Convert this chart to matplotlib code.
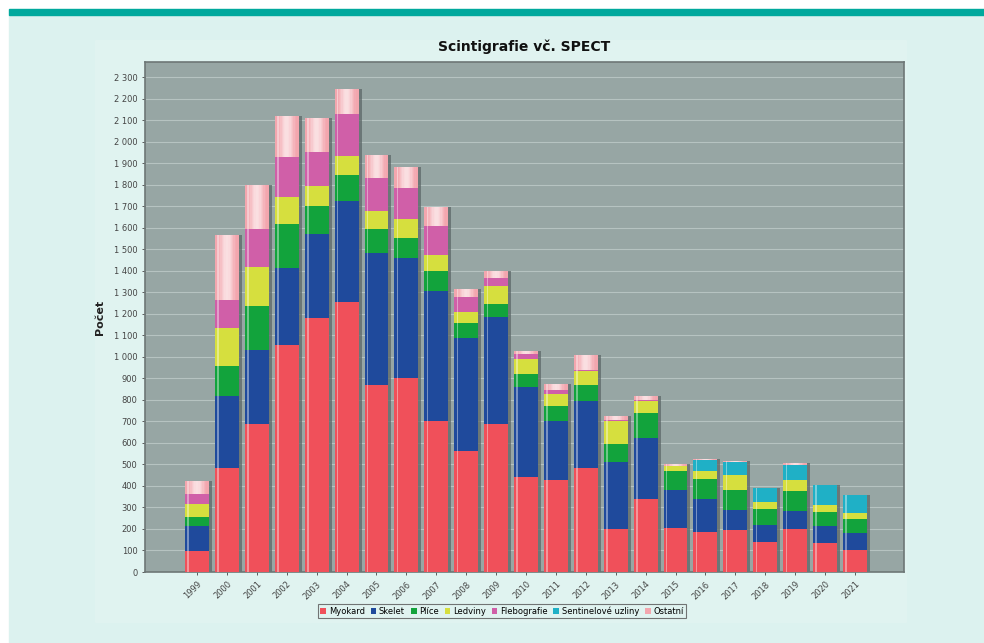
import numpy as np
import matplotlib
matplotlib.use("Agg")
import matplotlib.pyplot as plt
from matplotlib.patches import Rectangle, Patch

# data
years = [str(y) for y in range(1999, 2022)]
myokard = [96, 482, 688, 1057, 1181, 1256, 867, 903, 700, 562, 688, 442, 427, 481, 199, 338, 206, 186, 194, 140, 200, 134, 101]
skelet = [117, 338, 342, 358, 389, 468, 615, 557, 607, 526, 495, 419, 276, 314, 310, 287, 174, 151, 93, 77, 84, 80, 82]
plice = [42, 135, 207, 200, 132, 121, 110, 90, 91, 70, 61, 59, 68, 74, 88, 112, 89, 97, 96, 75, 92, 65, 65]
ledviny = [60, 180, 181, 126, 94, 90, 85, 89, 73, 49, 84, 68, 56, 65, 106, 58, 23, 35, 70, 34, 51, 34, 28]
flebografie = [47, 128, 176, 186, 156, 194, 153, 144, 138, 69, 38, 24, 19, 5, 5, 5, 0, 0, 0, 0, 0, 0, 0]
sentinel = [0, 0, 0, 0, 0, 0, 0, 0, 0, 0, 0, 0, 0, 0, 0, 0, 0, 51, 60, 64, 70, 90, 81]
ostatni = [60, 302, 203, 194, 156, 116, 108, 97, 87, 40, 34, 14, 26, 70, 17, 18, 12, 3, 2, 2, 10, 3, 3]

series = [
    ("Myokard", myokard, "#f0505a"),
    ("Skelet", skelet, "#1f4a9c"),
    ("Plíce", plice, "#12a33c"),
    ("Ledviny", ledviny, "#d6df3e"),
    ("Flebografie", flebografie, "#d05fa8"),
    ("Sentinelové uzliny", sentinel, "#1fb0c6"),
    ("Ostatní", ostatni, "#f3a6ae"),
]

bg = "#dcf2ef"
fig = plt.figure(figsize=(9.84, 6.43), dpi=100, facecolor="white")

# page background and teal rule
fig.patches.append(Rectangle((9/984, 0), 1, 1 - 15/643, transform=fig.transFigure,
                             color=bg, zorder=-10))
fig.patches.append(Rectangle((9/984, 1 - 15/643), 1, 6/643, transform=fig.transFigure,
                             color="#00a99d", zorder=-10))
fig.patches.append(Rectangle((95/984, 1 - 622/643), (906-95)/984, (622-40)/643,
                             transform=fig.transFigure, color="#e0f3f0", zorder=-9))

ax = fig.add_axes([145/984, 1 - 572/643, (904-145)/984, (572-62)/643])
ax.set_facecolor("#97a6a4")

x = np.arange(len(years))
w = 0.8
totals = np.sum([s[1] for s in series], axis=0)

# shadow behind the bars
ax.bar(x + 0.1, totals, w, color="#5d6868", alpha=0.75, zorder=2)

# horizontal white gradient for the top segment
nstrip = 16
prof = np.sin(np.linspace(0, np.pi, nstrip)) ** 1.5 * 0.65

bottom = np.zeros(len(years))
for name, vals, col in series:
    vals = np.array(vals, dtype=float)
    ax.bar(x, vals, w, bottom=bottom, color=col, zorder=3)
    if name == "Ostatní":
        sw = (w - 0.1) / nstrip
        for k, a in enumerate(prof):
            ax.bar(x - w/2 + 0.05 + k*sw, vals, sw, bottom=bottom, align="edge",
                   color="white", alpha=a, linewidth=0, zorder=4)
    # light stripe near the left edge
    ax.bar(x - w/2 + 0.08, vals, 0.05, bottom=bottom, align="edge",
           color="white", alpha=0.4, linewidth=0, zorder=4)
    bottom += vals

ax.set_xlim(-1.74, 23.64)
ax.set_ylim(0, 2370)
ax.set_yticks(range(0, 2301, 100))
ax.set_yticklabels([f"{v:,}".replace(",", " ") for v in range(0, 2301, 100)])
ax.set_xticks(x)
ax.set_xticklabels(years, rotation=45, ha="right", rotation_mode="anchor")
ax.tick_params(axis="both", labelsize=6, colors="#444444", length=2, width=0.6)
ax.yaxis.grid(True, color="#b6c3c1", linewidth=0.8, zorder=1)
ax.set_axisbelow(True)
for s in ax.spines.values():
    s.set_color("#6d7776")
    s.set_linewidth(1.2)

ax.set_ylabel("Počet", fontsize=8, fontweight="bold", color="#222222", labelpad=6)
ax.set_title("Scintigrafie vč. SPECT", fontsize=10, fontweight="bold", color="#111111", pad=8)

handles = [Patch(facecolor=c, edgecolor="none", label=n) for n, _, c in series]
leg = fig.legend(handles=handles, loc="center", bbox_to_anchor=(502/984, 1 - 611/643),
                 ncol=7, fontsize=6, frameon=True, fancybox=False, edgecolor="#555555",
                 facecolor="#e0f3f0", handlelength=0.7, handleheight=0.7,
                 handletextpad=0.3, columnspacing=0.7, borderpad=0.3)
leg.get_frame().set_linewidth(0.8)

fig.savefig("out.png", dpi=100, facecolor=fig.get_facecolor())
